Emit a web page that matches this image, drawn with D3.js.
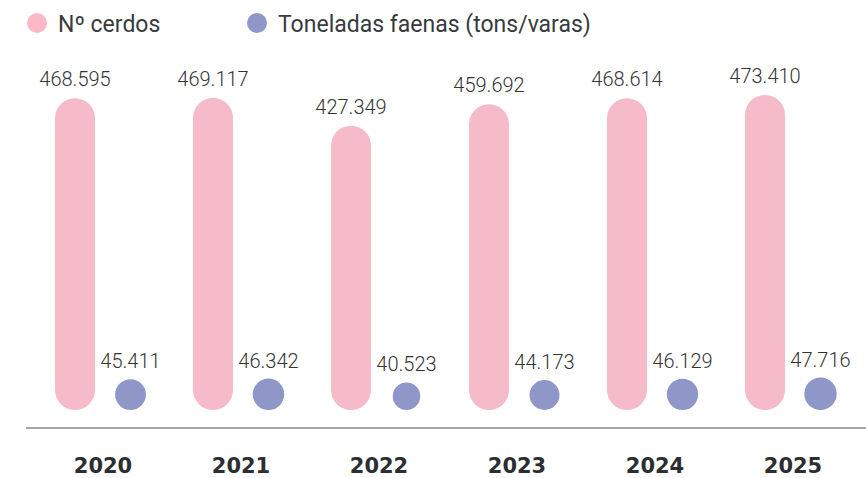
<!DOCTYPE html>
<html>
<head>
<meta charset="utf-8">
<script src="https://cdn.jsdelivr.net/npm/d3@7"></script>
<style>
  body { margin: 0; background: #fff; }
  svg { display: block; }
</style>
</head>
<body>
<svg id="chart"></svg>
<script>
// data
var years = ['2020', '2021', '2022', '2023', '2024', '2025'];
var cerdos = [468595, 469117, 427349, 459692, 468614, 473410];
var toneladas = [45411, 46342, 40523, 44173, 46129, 47716];
var seriesNames = ['Nº cerdos', 'Toneladas faenas (tons/varas)'];

var width = 866, height = 478;
var baseY = 410;      // bottom of the pills and circles
var barWidth = 40;
var pink = '#f6bbc9', purple = '#8f97c8';

var svg = d3.select('#chart')
    .attr('width', width)
    .attr('height', height);

// one band per year
var x = d3.scaleBand()
    .domain(years)
    .range([34, 862]);

// position inside a band
var xInner = d3.scalePoint()
    .domain(['cerdos', 'ton'])
    .range([-28, 27.5]);

var y = d3.scaleLinear()
    .domain([0, d3.max(cerdos)])
    .range([baseY, 95]);

var r = d3.scaleLinear()
    .domain([0, d3.max(toneladas)])
    .range([0, 16.2]);

var rows = years.map(function(yr, i) {
    return { year: yr, cerdos: cerdos[i], ton: toneladas[i] };
});

function center(d) { return x(d.year) + x.bandwidth() / 2; }
var fmt = d3.formatLocale({ decimal: ',', thousands: '.', grouping: [3], currency: ['', ''] }).format(',');

// pink pills
svg.selectAll('.bar')
    .data(rows)
    .enter().append('rect')
    .attr('class', 'bar')
    .attr('x', function(d) { return center(d) + xInner('cerdos') - barWidth / 2; })
    .attr('y', function(d) { return y(d.cerdos); })
    .attr('width', barWidth)
    .attr('height', function(d) { return baseY - y(d.cerdos); })
    .attr('rx', barWidth / 2)
    .style('fill', pink);

svg.selectAll('.bar-value')
    .data(rows)
    .enter().append('text')
    .attr('class', 'bar-value')
    .attr('x', function(d) { return center(d) + xInner('cerdos'); })
    .attr('y', function(d) { return y(d.cerdos) - 12; })
    .attr('text-anchor', 'middle')
    .style('font-family', 'Roboto, sans-serif')
    .style('font-weight', 300)
    .style('font-size', '20px')
    .style('fill', '#333')
    .text(function(d) { return fmt(d.cerdos); });

// purple dots
svg.selectAll('.dot')
    .data(rows)
    .enter().append('circle')
    .attr('class', 'dot')
    .attr('cx', function(d) { return center(d) + xInner('ton'); })
    .attr('cy', function(d) { return baseY - r(d.ton); })
    .attr('r', function(d) { return r(d.ton); })
    .style('fill', purple);

svg.selectAll('.dot-value')
    .data(rows)
    .enter().append('text')
    .attr('class', 'dot-value')
    .attr('x', function(d) { return center(d) + xInner('ton'); })
    .attr('y', function(d) { return baseY - 2 * r(d.ton) - 11; })
    .attr('text-anchor', 'middle')
    .style('font-family', 'Roboto, sans-serif')
    .style('font-weight', 300)
    .style('font-size', '20px')
    .style('fill', '#333')
    .text(function(d) { return fmt(d.ton); });

// baseline axis
var axis = svg.append('g')
    .attr('transform', 'translate(0,428)')
    .call(d3.axisBottom(x).tickSize(0).tickPadding(30));

axis.select('.domain')
    .attr('d', 'M26,0H866')
    .style('stroke', '#8c8a92')
    .style('stroke-width', 1.5);

axis.selectAll('text')
    .style('font-family', 'DejaVu Sans, sans-serif')
    .style('font-weight', 'bold')
    .style('font-size', '21px')
    .style('fill', '#2b2f33');

// legend
var legendX = [37, 257];
var legend = svg.selectAll('.legend')
    .data(seriesNames)
    .enter().append('g')
    .attr('class', 'legend')
    .attr('transform', function(d, i) { return 'translate(' + legendX[i] + ',23)'; });

legend.append('circle')
    .attr('r', 10)
    .style('fill', function(d, i) { return i === 0 ? '#fbb9c8' : purple; });

legend.append('text')
    .attr('x', 21)
    .attr('y', 9)
    .style('font-family', 'Roboto, sans-serif')
    .style('font-size', '23px')
    .style('fill', '#383b3e')
    .text(function(d) { return d; });
</script>
</body>
</html>
